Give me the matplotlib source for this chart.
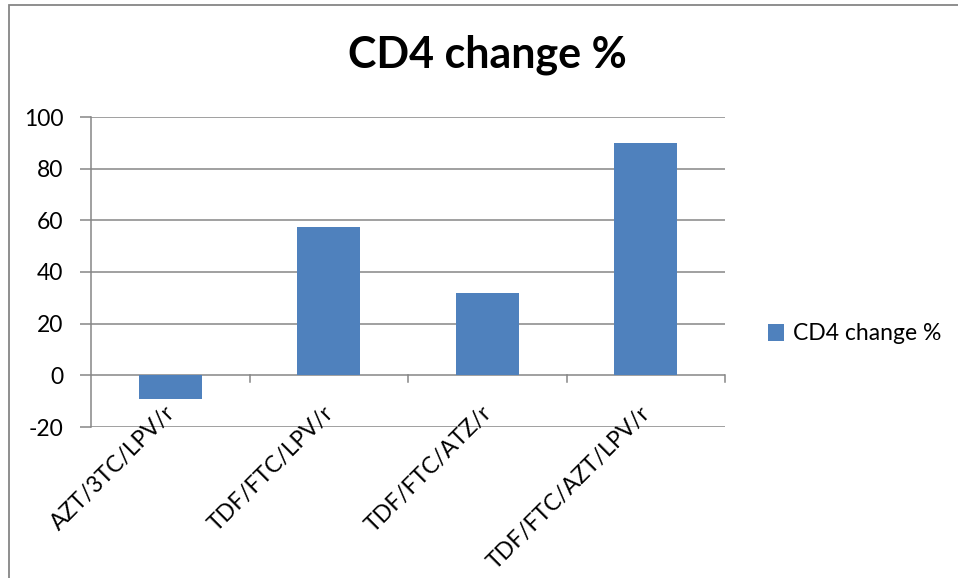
import matplotlib.pyplot as plt
from matplotlib.patches import Rectangle

# regimen data
regimens = ["AZT/3TC/LPV/r", "TDF/FTC/LPV/r", "TDF/FTC/ATZ/r", "TDF/FTC/AZT/LPV/r"]
cd4_change = [-9, 57.5, 32, 90]
yticks = [-20, 0, 20, 40, 60, 80, 100]

W, H = 958, 578
dpi = 100
grey = "#868686"
blue = "#4F81BD"
plt.rcParams['font.family'] = ['Lato', 'DejaVu Sans']

fig = plt.figure(figsize=(W / dpi, H / dpi), dpi=dpi)
ax = fig.add_axes([91 / W, 1 - 427 / H, (725 - 91) / W, (427 - 117) / H])

x = list(range(len(regimens)))
ax.bar(x, cd4_change, width=0.4, color=blue, zorder=3, label="CD4 change %")

ax.set_xlim(-0.5, len(regimens) - 0.5)
ax.set_ylim(-20, 100)
ax.set_yticks(yticks)
ax.set_yticklabels([str(t) for t in yticks], fontsize=16.5)
ax.tick_params(axis='y', length=8, width=1.1, color=grey, pad=12)

# horizontal gridlines
for t in yticks:
    ax.axhline(t, color=grey, lw=1.1, zorder=1)

for s in ["top", "right", "bottom"]:
    ax.spines[s].set_visible(False)
ax.spines["left"].set_color(grey)
ax.spines["left"].set_linewidth(1.1)

# category axis sits on zero with ticks between categories
ax.set_xticks([])
for b in [0.5, 1.5, 2.5, 3.5]:
    ax.plot([b, b], [0, -2.4], color=grey, lw=1.1, zorder=2, clip_on=False)

for xi, name in zip(x, regimens):
    ax.text(xi - 0.04, -10.5, name, rotation=45, ha='right', va='top',
            rotation_mode='anchor', fontsize=16.5, zorder=4)

fig.text(487 / W, 1 - 55 / H, "CD4 change %", ha='center', va='center',
         fontsize=31, fontweight='bold')

ax.legend(loc='center left', bbox_to_anchor=(1.035, 0.30), frameon=False,
          fontsize=16.5, handlelength=0.7, handleheight=0.7, handletextpad=0.4)

# chart border
fig.add_artist(Rectangle((9 / W, -0.1), 1.2, 1.1 - 5 / H, transform=fig.transFigure,
                         fill=False, edgecolor=grey, lw=1.3))

fig.savefig("out.png", dpi=dpi)
